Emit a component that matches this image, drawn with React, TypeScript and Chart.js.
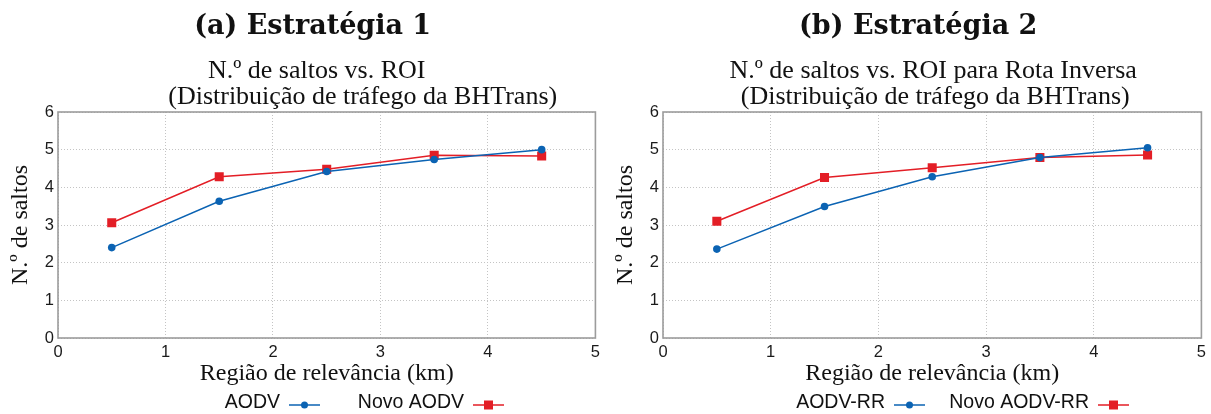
import React, { useEffect, useRef } from "react";
import { Chart, registerables } from "chart.js";

Chart.register(...registerables);

// ---- data ----
const xValues = [0.5, 1.5, 2.5, 3.5, 4.5];
const aodv = [2.4, 3.63, 4.42, 4.74, 5.0];
const novoAodv = [3.06, 4.28, 4.48, 4.85, 4.83];
const aodvRR = [2.36, 3.49, 4.28, 4.79, 5.05];
const novoAodvRR = [3.1, 4.26, 4.52, 4.79, 4.86];

const xTickValues = [0, 1, 2, 3, 4, 5];
const yTickValues = [0, 1, 2, 3, 4, 5, 6];

const panelTitles = ["(a) Estratégia 1", "(b) Estratégia 2"];
const subtitleA = ["N.º de saltos vs. ROI", "(Distribuição de tráfego da BHTrans)"];
const subtitleB = ["N.º de saltos vs. ROI para Rota Inversa", "(Distribuição de tráfego da BHTrans)"];
const xAxisTitle = "Região de relevância (km)";
const yAxisTitle = "N.º de saltos";
const seriesNamesA = ["AODV", "Novo AODV"];
const seriesNamesB = ["AODV-RR", "Novo AODV-RR"];

const BLUE = "#0b63b3";
const RED = "#e31e26";

type PanelProps = {
  title: string;
  subtitle: string[];
  subtitleShift: number[];
  names: string[];
  sampleOffsets: number[];
  blue: number[];
  red: number[];
  width: number;
  left: number;
};

function Panel({ title, subtitle, subtitleShift, names, sampleOffsets, blue, red, width, left }: PanelProps) {
  const ref = useRef<HTMLCanvasElement | null>(null);

  useEffect(() => {
    if (!ref.current) return;
    const toPts = (arr: number[]) => xValues.map((x, i) => ({ x, y: arr[i] }));

    const decor = {
      id: "decor",
      afterDraw(chart: any) {
        const { ctx, chartArea } = chart;
        const ca = chartArea;
        ctx.save();
        // frame
        ctx.strokeStyle = "#9c9c9c";
        ctx.lineWidth = 1.6;
        ctx.strokeRect(ca.left, ca.top, ca.right - ca.left, ca.bottom - ca.top);

        // titles
        const cx = (ca.left + ca.right) / 2;
        ctx.fillStyle = "#111";
        ctx.textAlign = "center";
        ctx.textBaseline = "alphabetic";
        ctx.font = 'bold 27px "DejaVu Serif"';
        ctx.fillText(title, cx - 14, 34);
        ctx.font = '26px "Liberation Serif"';
        ctx.fillText(subtitle[0], cx + subtitleShift[0], 78);
        ctx.fillText(subtitle[1], cx + subtitleShift[1], 104);

        // legend (gnuplot style: right-justified text followed by sample)
        ctx.font = '19.5px "Liberation Sans"';
        ctx.textAlign = "right";
        ctx.textBaseline = "middle";
        const sample = 31;
        const colors = [BLUE, RED];
        const y = 403;
        names.forEach((n, i) => {
          const sx = ca.left + sampleOffsets[i];
          ctx.fillStyle = "#111";
          ctx.fillText(n, sx - 9, y);
          ctx.strokeStyle = colors[i];
          ctx.lineWidth = 1.5;
          ctx.beginPath();
          ctx.moveTo(sx, y + 2);
          ctx.lineTo(sx + sample, y + 2);
          ctx.stroke();
          ctx.fillStyle = colors[i];
          const mx = sx + sample / 2;
          if (i === 0) {
            ctx.beginPath();
            ctx.arc(mx, y + 2, 3.5, 0, Math.PI * 2);
            ctx.fill();
          } else {
            ctx.fillRect(mx - 4.5, y + 2 - 4.5, 9, 9);
          }
        });
        ctx.restore();
      },
    };

    const chart = new Chart(ref.current, {
      type: "line",
      data: {
        datasets: [
          {
            label: names[0],
            data: toPts(blue),
            borderColor: BLUE,
            backgroundColor: BLUE,
            borderWidth: 1.5,
            pointStyle: "circle",
            pointRadius: 3.8,
            pointBorderWidth: 0,
            tension: 0,
          },
          {
            label: names[1],
            data: toPts(red),
            borderColor: RED,
            backgroundColor: RED,
            borderWidth: 1.5,
            pointStyle: "rect",
            pointRadius: 6.4,
            pointBorderWidth: 0,
            tension: 0,
          },
        ],
      },
      options: {
        responsive: false,
        animation: false,
        layout: { padding: { top: 112, right: 9, bottom: 26, left: 0 } },
        plugins: { legend: { display: false }, title: { display: false }, tooltip: { enabled: false } },
        scales: {
          x: {
            type: "linear",
            min: xTickValues[0],
            max: xTickValues[xTickValues.length - 1],
            afterBuildTicks: (s: any) => {
              s.ticks = xTickValues.map((v) => ({ value: v }));
            },
            afterFit: (s: any) => {
              s.height = 50;
            },
            grid: { color: "#c4c4c4", lineWidth: 1, drawTicks: false },
            border: { display: false, dash: [1, 2] },
            ticks: {
              color: "#1a1a1a",
              font: { family: "Liberation Sans", size: 16.5 },
              padding: 5,
              maxRotation: 0,
            },
            title: {
              display: true,
              text: xAxisTitle,
              color: "#111",
              font: { family: "Liberation Serif", size: 24 },
              padding: { top: 0, bottom: 0 },
            },
          },
          y: {
            type: "linear",
            min: yTickValues[0],
            max: yTickValues[yTickValues.length - 1],
            afterBuildTicks: (s: any) => {
              s.ticks = yTickValues.map((v) => ({ value: v }));
            },
            afterFit: (s: any) => {
              s.width = 58;
            },
            grid: { color: "#c4c4c4", lineWidth: 1, drawTicks: false },
            border: { display: false, dash: [1, 2] },
            ticks: {
              color: "#1a1a1a",
              font: { family: "Liberation Sans", size: 16.5 },
              padding: 4,
            },
            title: {
              display: true,
              text: yAxisTitle,
              color: "#111",
              font: { family: "Liberation Serif", size: 24 },
              padding: { top: 6, bottom: 0 },
            },
          },
        },
      },
      plugins: [decor],
    });
    return () => chart.destroy();
  }, [title, subtitle, subtitleShift, names, sampleOffsets, blue, red]);

  return (
    <div style={{ position: "absolute", left, top: 0, width, height: 414 }}>
      <canvas ref={ref} width={width} height={414} style={{ display: "block" }} />
    </div>
  );
}

const shiftA = [-10, 36];
const shiftB = [1, 3];
const samplesA = [231, 415];
const samplesB = [231, 435];

export default function App() {
  return (
    <div style={{ position: "fixed", left: 0, top: 0, width: 1211, height: 414, background: "#fff" }}>
      <Panel
        title={panelTitles[0]}
        subtitle={subtitleA}
        subtitleShift={shiftA}
        names={seriesNamesA}
        sampleOffsets={samplesA}
        blue={aodv}
        red={novoAodv}
        width={605}
        left={0}
      />
      <Panel
        title={panelTitles[1]}
        subtitle={subtitleB}
        subtitleShift={shiftB}
        names={seriesNamesB}
        sampleOffsets={samplesB}
        blue={aodvRR}
        red={novoAodvRR}
        width={606}
        left={605}
      />
    </div>
  );
}
